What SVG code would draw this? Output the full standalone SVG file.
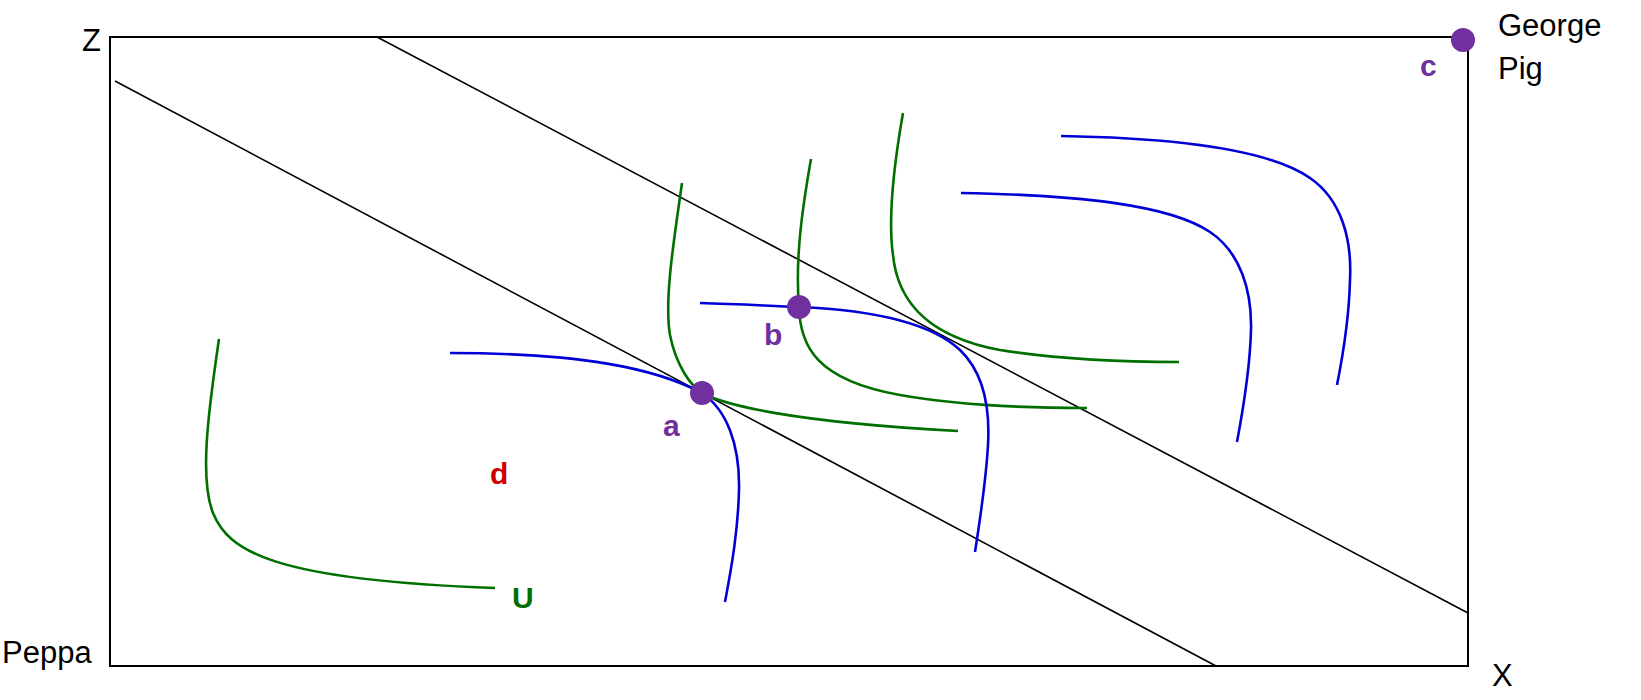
<svg xmlns="http://www.w3.org/2000/svg" width="1641" height="700" viewBox="0 0 1641 700">
<style>
text{font-family:"Liberation Sans",Arial,sans-serif}
.ax{font-size:31px;fill:#000}
.lb{font-size:30px;font-weight:bold}
.box{fill:none;stroke:#000;stroke-width:2}
.bl{fill:none;stroke:#000;stroke-width:1.6}
.u{fill:none;stroke:#006f00;stroke-width:2.6}
.b{fill:none;stroke:#0000d6;stroke-width:2.6}
.pt{fill:#7030a0}
</style>
<rect width="1641" height="700" fill="#fff"/>
<g id="frame">
<path class="box" d="M110,37 L1468,37 L1468,666 L110,666 Z"/>
</g>
<g id="connectors">
<line class="bl" x1="115" y1="81" x2="1216" y2="666"/>
<line class="bl" x1="377" y1="37" x2="1468" y2="613"/>
<path class="u" d="M219,339 C207,420 200,480 213,513 C228,550 270,580 495,588"/>
<path class="u" d="M682,183 C674,240 664,300 670,335 C676,365 690,385 702,393 C725,405 790,422 958,431"/>
<path class="u" d="M811,159 C802,210 795,260 799,307 C800,345 815,380 900,395 C950,404 1010,408 1087,408"/>
<path class="u" d="M903,113 C893,170 888,220 893,255 C897,295 920,335 1000,350 C1050,358 1110,362 1179,362"/>
<path class="b" d="M450,353 C580,353 655,368 702,393 C727,410 740,445 739,490 C738,530 732,565 725,602"/>
<path class="b" d="M700,303 C740,304 770,306 799,307 C870,310 930,322 960,350 C985,374 990,410 988,445 C986,480 980,520 975,552"/>
<path class="b" d="M961,193 C1080,195 1170,205 1210,232 C1240,252 1252,290 1251,330 C1250,370 1243,410 1237,442"/>
<path class="b" d="M1061,136 C1180,138 1270,150 1310,178 C1342,200 1352,240 1350,280 C1349,320 1343,355 1337,385"/>
</g>
<g id="point-a"><circle class="pt" cx="702" cy="393" r="12"/><text class="lb" x="663" y="436" fill="#7030a0">a</text></g>
<g id="point-b"><circle class="pt" cx="799" cy="307" r="12"/><text class="lb" x="764" y="345" fill="#7030a0">b</text></g>
<g id="point-c"><circle class="pt" cx="1463" cy="40" r="12"/><text class="lb" x="1420" y="76" fill="#7030a0">c</text></g>
<g id="label-d"><text class="lb" x="490" y="484" fill="#cc0000">d</text></g>
<g id="label-U"><text class="lb" x="512" y="608" fill="#006f00">U</text></g>
<g id="axis-labels">
<text class="ax" x="82" y="51">Z</text>
<text class="ax" x="1498" y="36">George</text>
<text class="ax" x="1498" y="79">Pig</text>
<text class="ax" x="2" y="663">Peppa</text>
<text class="ax" x="1492" y="686">X</text>
</g>
</svg>
